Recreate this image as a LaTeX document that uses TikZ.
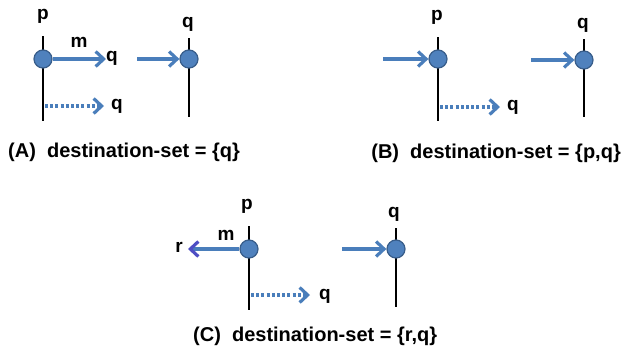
\documentclass[tikz,border=0pt]{standalone}
\usepackage{fontspec}
\setmainfont{Liberation Sans}
\usetikzlibrary{positioning}
\usetikzlibrary{arrows.meta}
\definecolor{msgblue}{RGB}{74,126,187}
\definecolor{procfill}{RGB}{79,129,189}
\definecolor{procedge}{RGB}{56,93,138}
\definecolor{replyblue}{RGB}{78,78,196}
\tikzset{
    race diagram/.style={
            x=1pt,y=-1pt,
            font=\fontsize{19}{22}\selectfont\bfseries,
            lbl/.style={anchor=base,inner sep=0pt},
            proc/.style={circle,draw=procedge,fill=procfill,line width=1.2pt,minimum size=18pt,inner sep=0pt},
            timeline/.style={line width=2.3pt},
            msg/.style={-{Straight Barb[length=8pt,width=15pt]},msgblue,line width=3.2pt},
            spec/.style={msg,dash pattern=on 3pt off 2.2pt},
            caption/.style={font=\fontsize{20}{24}\selectfont\bfseries,anchor=base west,inner sep=0pt}
        }
    }
\begin{document}
\begin{tikzpicture}[race diagram]
    \useasboundingbox (0,0) rectangle (622,357);

    % (A)
    \draw [timeline] (43,36) coordinate (pAtop) -- (43,121) coordinate (pAbot);
    \draw [timeline] (189,38) coordinate (qAtop) -- (189,117) coordinate (qAbot);
    \node [lbl] (pAl) at (43,19) {p};
    \node [lbl] (qAl) at (188,27) {q};
    \node [proc] (pA) at (43,59) {};
    \node [proc] (qA) at (189,59) {};
    \node [lbl] (mA) at (79,47) {m};
    \node [lbl,anchor=base west] (toA) at (106,61) {q};
    \node [lbl,anchor=base west] (specA) at (111,109) {q};
    \coordinate (inA) at (137,59);
    \coordinate (forkA) at (45,106);
    \draw [msg] (pA) -- (toA.west |- pA);
    \draw [msg] (inA) -- (qA);
    \draw [spec] (forkA) -- (104,106);
    \node [caption] (capA) at (8,157) {(A)\ \ destination-set = \{q\}};

    % (B)
    \draw [timeline] (438,37) coordinate (pBtop) -- (438,121) coordinate (pBbot);
    \draw [timeline] (584,39) coordinate (qBtop) -- (584,117) coordinate (qBbot);
    \node [lbl] (pBl) at (437,20) {p};
    \node [lbl] (qBl) at (583,28) {q};
    \node [proc] (pB) at (438,59) {};
    \node [proc] (qB) at (584,60) {};
    \node [lbl,anchor=base west] (specB) at (507,110) {q};
    \coordinate (inB) at (383,59);
    \coordinate (inB2) at (531,60);
    \coordinate (forkB) at (440,107);
    \draw [msg] (inB) -- (pB);
    \draw [msg] (inB2) -- (qB);
    \draw [spec] (forkB) -- (500,107);
    \node [caption,anchor=base east] (capB) at (621,158) {(B)\ \ destination-set = \{p,q\}};

    % (C)
    \draw [timeline] (249,226) coordinate (pCtop) -- (249,310) coordinate (pCbot);
    \draw [timeline] (396,228) coordinate (qCtop) -- (396,307) coordinate (qCbot);
    \node [lbl] (pCl) at (247,209) {p};
    \node [lbl] (qCl) at (394,217) {q};
    \node [proc] (pC) at (249,249) {};
    \node [proc] (qC) at (396,249) {};
    \node [lbl] (mC) at (226,240) {m};
    \node [lbl,anchor=base east] (toC) at (183,252) {r};
    \node [lbl,anchor=base west] (specC) at (319,299) {q};
    \coordinate (inC) at (342,249);
    \coordinate (forkC) at (251,295);
    \draw [msg,-{Straight Barb[length=8pt,width=15pt,color=replyblue]}] (pC) -- (188,249);
    \draw [msg] (inC) -- (qC);
    \draw [spec] (forkC) -- (310,295);
    \node [caption] (capC) at (193,341) {(C)\ \ destination-set = \{r,q\}};
\end{tikzpicture}
\end{document}
